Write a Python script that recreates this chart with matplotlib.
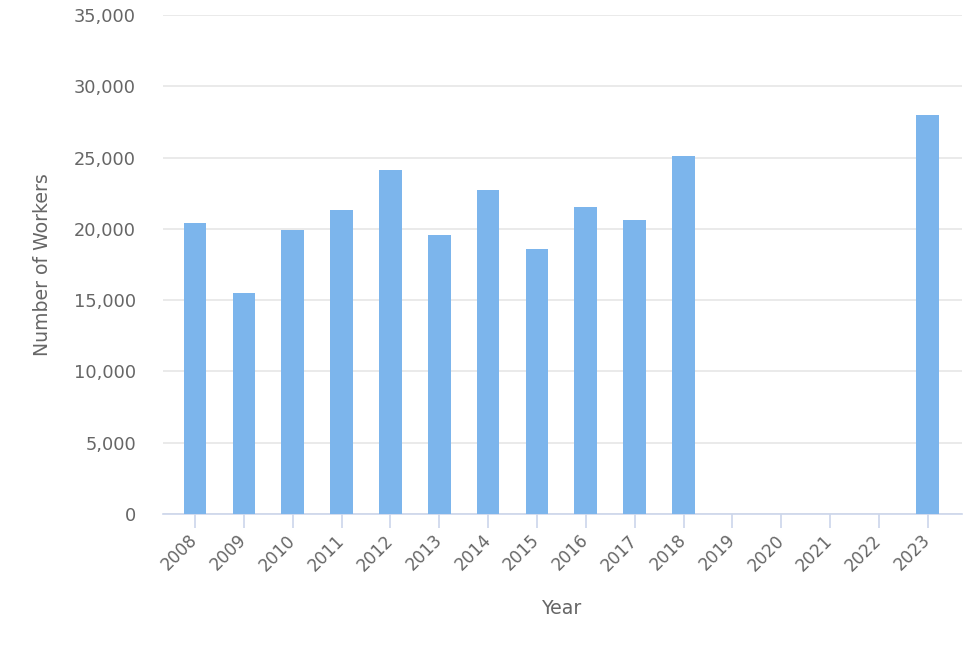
import matplotlib.pyplot as plt
from matplotlib.ticker import FuncFormatter

years = ["2008", "2009", "2010", "2011", "2012", "2013", "2014", "2015",
         "2016", "2017", "2018", "2019", "2020", "2021", "2022", "2023"]
workers = [20400, 15500, 19900, 21300, 24100, 19600, 22700, 18600,
           21500, 20600, 25100, 0, 0, 0, 0, 28000]

fig = plt.figure(figsize=(9.78, 6.52), dpi=100)
ax = fig.add_axes([0.1667, 0.2117, 0.8169, 0.7653])

x = range(len(years))
ax.bar(x, workers, width=0.465, color="#7cb5ec", zorder=3)

ax.set_xlim(-0.655, 15.7)
ax.set_ylim(0, 35000)
ax.set_yticks(range(0, 35001, 5000))
ax.yaxis.set_major_formatter(FuncFormatter(lambda v, p: "{:,.0f}".format(v)))
ax.grid(axis="y", color="#e6e6e6", linewidth=1.2, zorder=0)

ax.set_xticks(list(x))
ax.set_xticklabels(years, rotation=45, ha="right", va="center",
                   rotation_mode="anchor")

for s in ["top", "right", "left"]:
    ax.spines[s].set_visible(False)
ax.spines["bottom"].set_color("#ccd6eb")
ax.spines["bottom"].set_linewidth(1.2)

ax.tick_params(axis="y", length=0, pad=19.5, labelsize=12.8, labelcolor="#666666")
ax.tick_params(axis="x", length=10, width=1.2, color="#ccd6eb", pad=7,
               labelsize=12.2, labelcolor="#666666")

ax.set_ylabel("Number of Workers", fontsize=13.6, color="#666666", labelpad=16)
ax.set_xlabel("Year", fontsize=13.6, color="#666666", labelpad=18)

plt.savefig("out.png", dpi=100)
